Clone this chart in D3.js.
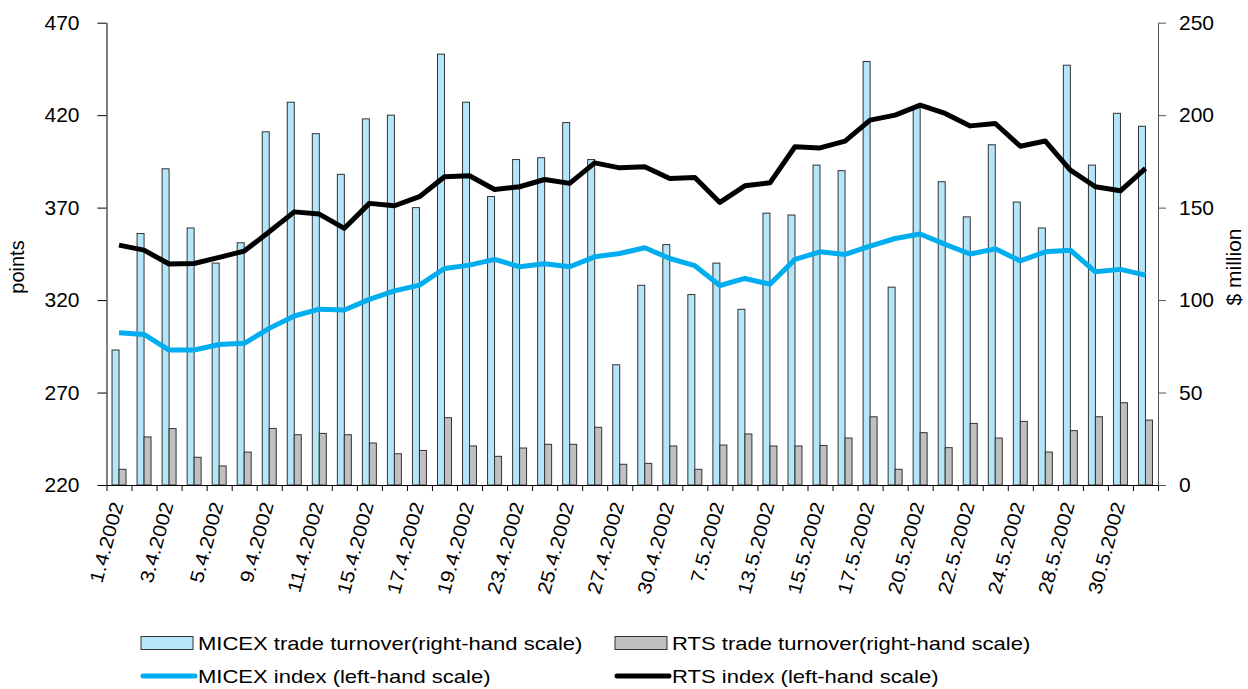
<!DOCTYPE html>
<html>
<head>
<meta charset="utf-8">
<script src="https://cdn.jsdelivr.net/npm/d3@7"></script>
<style>
body{margin:0;background:#fff;}
svg text{font-family:"Liberation Sans",Arial,sans-serif;fill:#000;}
</style>
</head>
<body>
<script>
// trading days, April - May 2002
var dates=["1.4.2002","2.4.2002","3.4.2002","4.4.2002","5.4.2002","8.4.2002","9.4.2002","10.4.2002",
"11.4.2002","12.4.2002","15.4.2002","16.4.2002","17.4.2002","18.4.2002","19.4.2002","22.4.2002",
"23.4.2002","24.4.2002","25.4.2002","26.4.2002","27.4.2002","29.4.2002","30.4.2002","6.5.2002",
"7.5.2002","8.5.2002","13.5.2002","14.5.2002","15.5.2002","16.5.2002","17.5.2002","18.5.2002",
"20.5.2002","21.5.2002","22.5.2002","23.5.2002","24.5.2002","27.5.2002","28.5.2002","29.5.2002",
"30.5.2002","31.5.2002"];

// $ million (right-hand scale)
var micexTurnover=[73,136,171,139,120,131,191,207,190,168,198,200,150,233,207,156,176,177,196,176,
65,108,130,103,120,95,147,146,173,170,229,107,204,164,145,184,153,139,227,173,201,194];
var rtsTurnover=[8.5,26,30.5,15,10.3,17.8,30.6,27.2,27.9,27.2,22.7,16.9,18.7,36.4,21.1,15.5,20,22,22,31.2,
11.2,11.7,21.1,8.5,21.6,27.6,21.1,21.1,21.4,25.4,36.9,8.5,28.3,20.2,33.3,25.4,34.4,17.8,29.4,36.9,44.5,35.1];

// points (left-hand scale)
var micexIndex=[302.3,301.4,293,293,296,296.6,304.7,311.4,315.1,314.6,320.4,325,328.1,337.1,338.9,342,
338,339.6,338,343.4,345.2,348.3,342.5,338.6,327.9,331.7,328.6,342,346.1,344.7,349.2,353.3,355.7,350.1,
344.9,347.7,341.2,346.1,347,335.3,336.6,333.5];
var rtsIndex=[349.7,347,339.5,339.8,343.1,346.5,356.9,367.7,366.5,358.8,372.3,371,375.9,386.7,387.2,379.8,
381.3,385.2,383.1,394.2,391.5,392.1,385.8,386.3,372.8,381.8,383.4,402.9,402.3,406,417.3,420,425.4,420.9,
414.2,415.5,403.2,406,390.3,381.3,379.1,391.2];

var leftTicks=[220,270,320,370,420,470];
var rightTicks=[0,50,100,150,200,250];

var svg=d3.select("body").append("svg")
.attr("width",1248)
.attr("height",689);

var x=d3.scaleBand().domain(dates).range([106.5,1158]);
var xIn=d3.scaleBand().domain(["micex","rts"]).range([0,x.bandwidth()]).paddingOuter(0.79);
var xIdx=d3.scaleLinear().domain([0,dates.length]).range([106.5,1158]);
var yLeft=d3.scaleLinear().domain([220,470]).range([485,22.7]);
var yRight=d3.scaleLinear().domain([0,250]).range([485,22.7]);

// bars
var rows=dates.map(function(d,i){return {date:d,micex:micexTurnover[i],rts:rtsTurnover[i]};});
var groups=svg.selectAll("g.day").data(rows).enter().append("g")
.attr("class","day")
.attr("transform",function(d){return "translate("+x(d.date)+",0)";});

groups.append("rect")
.attr("x",xIn("micex")).attr("width",xIn.bandwidth())
.attr("y",function(d){return yRight(d.micex);})
.attr("height",function(d){return 485-yRight(d.micex);})
.attr("fill","#b5e5f8").attr("stroke","#333").attr("stroke-width",1);

groups.append("rect")
.attr("x",xIn("rts")).attr("width",xIn.bandwidth())
.attr("y",function(d){return yRight(d.rts);})
.attr("height",function(d){return 485-yRight(d.rts);})
.attr("fill","#c0c0c0").attr("stroke","#333").attr("stroke-width",1);

// lines
var line=d3.line()
.x(function(d,i){return x(dates[i])+x.bandwidth()/2;})
.y(function(d){return yLeft(d);});

svg.append("path").datum(micexIndex).attr("d",line)
.attr("fill","none").attr("stroke","#00aeef").attr("stroke-width",5).attr("stroke-linejoin","round");
svg.append("path").datum(rtsIndex).attr("d",line)
.attr("fill","none").attr("stroke","#000").attr("stroke-width",5).attr("stroke-linejoin","round");

// x axis: ticks between days
svg.append("g").attr("transform","translate(0,485)")
.call(d3.axisBottom(xIdx).tickValues(d3.range(dates.length+1)).tickSize(6).tickSizeOuter(0).tickFormat(""))
.call(function(g){g.selectAll("line,path").attr("stroke","#000");});

// x labels, every second day
var xLab=svg.append("g").attr("transform","translate(0,485)")
.call(d3.axisBottom(x).tickValues(dates.filter(function(d,i){return i%2==0;})).tickSize(0));
xLab.select(".domain").remove();
xLab.selectAll("text")
.attr("x",0).attr("y",0).attr("dy",0)
.attr("transform","translate(4.5,19) rotate(-75) scale(1.12,1)")
.style("text-anchor","end")
.style("font-size","19px");

// left axis
var yl=svg.append("g").attr("transform","translate(106.5,0)")
.call(d3.axisLeft(yLeft).tickValues(leftTicks).tickSize(9).tickSizeOuter(0).tickPadding(18));
yl.selectAll("line,path").attr("stroke","#000");
yl.selectAll("text").style("font-size","21px");

// right axis
var yr=svg.append("g").attr("transform","translate(1158,0)")
.call(d3.axisRight(yRight).tickValues(rightTicks).tickSize(8).tickSizeOuter(0).tickPadding(13));
yr.selectAll("line,path").attr("stroke","#555");
yr.selectAll("text").style("font-size","21px");

svg.append("text").text("points")
.attr("transform","translate(24,267) rotate(-90)")
.attr("text-anchor","middle").style("font-size","20px");
svg.append("text").text("$ million")
.attr("transform","translate(1241,267) rotate(-90)")
.attr("text-anchor","middle").style("font-size","21px");

// legend
var legendItems=[
{label:"MICEX trade turnover(right-hand scale)",kind:"bar",color:"#b5e5f8",x:141,y:643},
{label:"RTS trade turnover(right-hand scale)",kind:"bar",color:"#c0c0c0",x:615,y:643},
{label:"MICEX index (left-hand scale)",kind:"line",color:"#00aeef",x:141,y:676},
{label:"RTS index (left-hand scale)",kind:"line",color:"#000",x:615,y:676}
];
var lg=svg.selectAll("g.legend").data(legendItems).enter().append("g")
.attr("class","legend")
.attr("transform",function(d){return "translate("+d.x+","+d.y+")";});
lg.filter(function(d){return d.kind=="bar";}).append("rect")
.attr("x",0).attr("y",-6.5).attr("width",52).attr("height",13)
.attr("fill",function(d){return d.color;}).attr("stroke","#333");
lg.filter(function(d){return d.kind=="line";}).append("line")
.attr("x1",2).attr("x2",54).attr("y1",0).attr("y2",0)
.attr("stroke",function(d){return d.color;}).attr("stroke-width",5).attr("stroke-linecap","round");
lg.append("text").text(function(d){return d.label;})
.attr("transform","translate(57,7) scale(1.16,1)")
.style("font-size","19px");
</script>
</body>
</html>
